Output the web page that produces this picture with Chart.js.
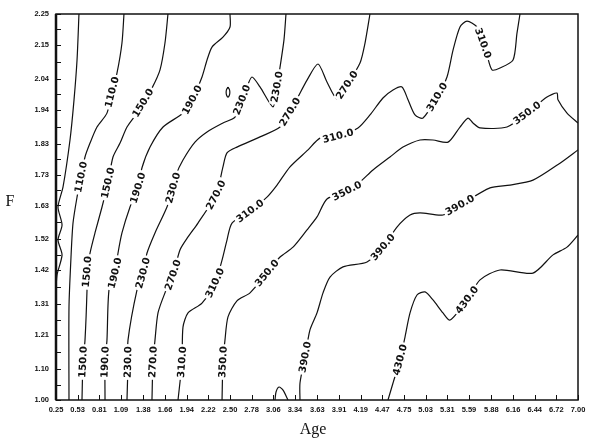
<!DOCTYPE html>
<html>
<head>
<meta charset="utf-8">
<script src="https://cdn.jsdelivr.net/npm/chart.js@4.4.0/dist/chart.umd.min.js"></script>
<style>
  html, body { margin: 0; padding: 0; background: #fff; }
</style>
</head>
<body>
<canvas id="contour" width="600" height="442"></canvas>
<script>
// axis tick labels, as printed
const xTickLabels = ['0.25','0.53','0.81','1.09','1.38','1.66','1.94','2.22','2.50','2.78','3.06','3.34','3.63',
                     '3.91','4.19','4.47','4.75','5.03','5.31','5.59','5.88','6.16','6.44','6.72','7.00'];
const yTickLabels = ['1.00','1.10','1.21','1.31','1.42','1.52','1.63','1.73','1.83','1.94','2.04','2.15','2.25'];

// contour lines, [Age, F]
const c070 = [[0.547,2.250],[0.522,2.101],[0.483,1.972],[0.431,1.842],[0.341,1.690],[0.276,1.625],
              [0.328,1.567],[0.276,1.518],[0.328,1.470],[0.263,1.405],[0.250,1.356]];
const c110 = [[1.129,2.250],[1.103,2.156],[1.039,2.059],[0.974,1.997],[0.909,1.929],[0.780,1.884],
              [0.690,1.832],[0.625,1.787],[0.573,1.722],[0.522,1.657],[0.470,1.573],[0.444,1.463],
              [0.418,1.301],[0.418,1.000]];
const c150 = [[1.698,2.250],[1.659,2.156],[1.595,2.069],[1.491,2.010],[1.375,1.962],[1.297,1.929],
              [1.168,1.884],[1.078,1.832],[0.987,1.787],[0.922,1.703],[0.845,1.625],[0.754,1.541],
              [0.690,1.476],[0.651,1.415],[0.651,1.356],[0.625,1.194],[0.599,1.123],[0.586,1.000]];
const c190 = [[2.500,2.250],[2.500,2.208],[2.409,2.175],[2.267,2.143],[2.203,2.101],[2.138,2.046],
              [2.009,1.972],[1.892,1.929],[1.634,1.884],[1.466,1.819],[1.362,1.752],[1.310,1.687],
              [1.207,1.625],[1.103,1.541],[1.052,1.476],[1.013,1.411],[0.935,1.356],[0.909,1.194],
              [0.884,1.123],[0.884,1.000]];
const c230 = [[3.224,2.250],[3.198,2.166],[3.147,2.078],[3.108,2.014],[3.056,1.949],[2.888,2.014],
              [2.784,2.046],[2.720,2.014],[2.655,1.972],[2.565,1.916],[2.409,1.897],[2.203,1.868],
              [2.047,1.835],[1.892,1.777],[1.802,1.729],[1.763,1.687],[1.685,1.625],[1.530,1.541],
              [1.427,1.476],[1.375,1.411],[1.297,1.356],[1.181,1.194],[1.181,1.123],[1.168,1.000]];
const c230loop = [[2.474,2.013],[2.492,2.006],[2.498,1.997],[2.492,1.987],[2.474,1.981],
                  [2.456,1.987],[2.450,1.997],[2.456,2.006],[2.474,2.013]];
const c270 = [[4.310,2.250],[4.246,2.156],[4.181,2.091],[4.013,2.020],[3.884,1.975],[3.754,2.030],
              [3.638,2.088],[3.496,2.036],[3.379,1.981],[3.276,1.933],[3.147,1.884],[2.888,1.852],
              [2.590,1.819],[2.461,1.800],[2.409,1.755],[2.371,1.712],[2.319,1.664],[2.086,1.573],
              [1.957,1.528],[1.853,1.486],[1.763,1.405],[1.659,1.347],[1.569,1.282],[1.530,1.194],
              [1.504,1.123],[1.491,1.000]];
const c310 = [[6.250,2.250],[6.211,2.188],[6.160,2.101],[5.991,2.075],[5.888,2.069],[5.823,2.117],
              [5.772,2.156],[5.694,2.208],[5.565,2.227],[5.474,2.208],[5.384,2.133],[5.306,2.046],
              [5.177,1.981],[4.996,1.913],[4.892,1.923],[4.802,1.972],[4.724,2.014],[4.608,2.004],
              [4.478,1.978],[4.310,1.923],[4.155,1.881],[3.897,1.855],[3.664,1.848],[3.509,1.810],
              [3.276,1.755],[3.108,1.696],[2.978,1.657],[2.759,1.612],[2.526,1.573],[2.461,1.518],
              [2.397,1.453],[2.306,1.379],[2.138,1.314],[1.957,1.282],[1.892,1.236],[1.879,1.123],
              [1.828,1.000]];
const c350 = [[7.000,1.897],[6.858,1.929],[6.741,1.972],[6.728,1.994],[6.599,1.981],[6.341,1.929],
              [6.082,1.884],[5.733,1.881],[5.642,1.897],[5.578,1.913],[5.474,1.884],[5.319,1.835],
              [5.125,1.842],[4.957,1.842],[4.737,1.819],[4.569,1.787],[4.349,1.745],[4.181,1.706],
              [4.013,1.677],[3.754,1.651],[3.625,1.593],[3.496,1.551],[3.315,1.495],[3.147,1.463],
              [2.978,1.411],[2.759,1.347],[2.590,1.321],[2.474,1.269],[2.435,1.194],[2.409,1.123],
              [2.397,1.000]];
const c390 = [[7.000,1.810],[6.767,1.767],[6.418,1.712],[6.121,1.696],[5.862,1.687],[5.474,1.631],
              [5.254,1.599],[4.957,1.606],[4.828,1.599],[4.659,1.560],[4.478,1.495],[4.272,1.447],
              [3.961,1.431],[3.793,1.398],[3.703,1.347],[3.625,1.282],[3.534,1.227],[3.470,1.139],
              [3.405,1.055],[3.405,1.000]];
const c430 = [[7.000,1.534],[6.858,1.495],[6.677,1.470],[6.418,1.411],[5.991,1.421],[5.733,1.389],
              [5.565,1.324],[5.345,1.259],[5.254,1.282],[5.125,1.324],[5.022,1.350],[4.918,1.340],
              [4.828,1.282],[4.763,1.204],[4.698,1.130],[4.608,1.055],[4.543,1.000]];
const c430bump = [[3.082,1.000],[3.095,1.026],[3.134,1.042],[3.186,1.032],[3.250,1.000]];

// where the level numbers are printed on each line
const label110 = [[0.974,1.997],[0.573,1.722]];
const label150 = [[1.375,1.962],[0.922,1.703],[0.651,1.415],[0.599,1.123]];
const label190 = [[2.009,1.972],[1.310,1.687],[1.013,1.411],[0.884,1.123]];
const label230 = [[3.108,2.014],[2.655,1.972],[1.763,1.687],[1.375,1.411],[1.181,1.123]];
const label270 = [[4.013,2.020],[3.276,1.933],[2.319,1.664],[1.763,1.405],[1.504,1.123]];
const label310 = [[5.772,2.156],[5.177,1.981],[3.897,1.855],[2.759,1.612],[2.306,1.379],[1.879,1.123]];
const label350 = [[6.341,1.929],[4.013,1.677],[2.978,1.411],[2.409,1.123]];
const label390 = [[5.474,1.631],[4.478,1.495],[3.470,1.139]];
const label430 = [[5.565,1.324],[4.698,1.130]];

const lines = [c070, c110, c150, c190, c230, c230loop, c270, c310, c350, c390, c430, c430bump];
const labelled = [
  [1, '110.0', label110], [2, '150.0', label150], [3, '190.0', label190], [4, '230.0', label230],
  [6, '270.0', label270], [7, '310.0', label310], [8, '350.0', label350], [9, '390.0', label390],
  [10, '430.0', label430]
];

const toPts = arr => arr.map(p => ({ x: p[0], y: p[1] }));

const yTickVals = [];
yTickLabels.forEach((l, i) => {
  yTickVals.push(+l);
  if (i < yTickLabels.length - 1) yTickVals.push((+l + +yTickLabels[i + 1]) / 2);
});

const contourLabels = {
  id: 'contourLabels',
  afterDatasetsDraw(chart) {
    const { ctx, scales } = chart;
    ctx.save();
    ctx.font = 'bold 10px "DejaVu Sans"';
    ctx.textAlign = 'center';
    ctx.textBaseline = 'middle';
    labelled.forEach(([di, text, spots]) => {
      const px = lines[di].map(p => [scales.x.getPixelForValue(p[0]), scales.y.getPixelForValue(p[1])]);
      spots.forEach(s => {
        const sx = scales.x.getPixelForValue(s[0]);
        const sy = scales.y.getPixelForValue(s[1]);
        // take the direction of the line around the spot
        let k = 0, best = 1e9;
        px.forEach((p, i) => {
          const d = Math.hypot(p[0] - sx, p[1] - sy);
          if (d < best) { best = d; k = i; }
        });
        const a = px[Math.max(0, k - 1)], b = px[Math.min(px.length - 1, k + 1)];
        let ang = Math.atan2(b[1] - a[1], b[0] - a[0]);
        if (ang > Math.PI / 2 - 0.1) ang -= Math.PI;
        if (ang < -Math.PI / 2 - 0.1) ang += Math.PI;
        const w = ctx.measureText(text).width;
        ctx.save();
        ctx.translate(sx, sy);
        ctx.rotate(ang);
        ctx.fillStyle = '#fff';
        ctx.fillRect(-w / 2 - 2, -5, w + 4, 10);
        ctx.fillStyle = '#111';
        ctx.fillText(text, 0, 0.5);
        ctx.restore();
      });
    });
    ctx.restore();
  }
};

const frameAndTicks = {
  id: 'frameAndTicks',
  afterDraw(chart) {
    const { ctx, chartArea: a, scales } = chart;
    ctx.save();
    ctx.strokeStyle = '#111';
    ctx.lineWidth = 1;
    scales.x.ticks.forEach(t => {
      const x = Math.round(scales.x.getPixelForValue(t.value)) + 0.5;
      ctx.beginPath(); ctx.moveTo(x, a.bottom); ctx.lineTo(x, a.bottom - 5); ctx.stroke();
    });
    scales.y.ticks.forEach(t => {
      const y = Math.round(scales.y.getPixelForValue(t.value)) + 0.5;
      ctx.beginPath(); ctx.moveTo(a.left, y); ctx.lineTo(a.left + 5, y); ctx.stroke();
    });
    ctx.lineWidth = 1.5;
    ctx.strokeRect(a.left, a.top, a.right - a.left, a.bottom - a.top);
    ctx.lineWidth = 2.5;
    ctx.beginPath(); ctx.moveTo(a.left, a.top); ctx.lineTo(a.left, a.bottom); ctx.stroke();

    ctx.fillStyle = '#111';
    ctx.font = '16px "Liberation Serif"';
    ctx.textAlign = 'center';
    ctx.textBaseline = 'middle';
    ctx.fillText('Age', (a.left + a.right) / 2 - 4, a.bottom + 30);
    ctx.fillText('F', a.left - 46, (a.top + a.bottom) / 2 - 5);
    ctx.restore();
  }
};

new Chart(document.getElementById('contour'), {
  type: 'scatter',
  data: {
    datasets: lines.map(l => ({
      data: toPts(l),
      showLine: true,
      borderColor: '#111',
      borderWidth: 1.2,
      pointRadius: 0,
      tension: 0.25
    }))
  },
  options: {
    responsive: false,
    animation: false,
    layout: { padding: { top: 14, right: 22, left: 0, bottom: 0 } },
    plugins: { legend: { display: false }, tooltip: { enabled: false } },
    scales: {
      x: {
        type: 'linear',
        min: 0.25,
        max: 7.0,
        afterBuildTicks: axis => { axis.ticks = xTickLabels.map(v => ({ value: +v })); },
        afterFit: scale => { scale.height = 42; },
        grid: { display: false, drawTicks: false },
        border: { display: false },
        ticks: {
          autoSkip: false, maxRotation: 0, minRotation: 0, padding: 5,
          color: '#111', font: { family: 'Liberation Sans', size: 7.5, weight: 'bold' },
          callback: (v, i) => xTickLabels[i]
        }
      },
      y: {
        type: 'linear',
        min: 1.0,
        max: 2.25,
        afterBuildTicks: axis => { axis.ticks = yTickVals.map(v => ({ value: v })); },
        afterFit: scale => { scale.width = 56; },
        grid: { display: false, drawTicks: false },
        border: { display: false },
        ticks: {
          autoSkip: false, padding: 7,
          color: '#111', font: { family: 'Liberation Sans', size: 7.5, weight: 'bold' },
          callback: (v, i) => (i % 2 === 0 ? yTickLabels[i / 2] : '')
        }
      }
    }
  },
  plugins: [contourLabels, frameAndTicks]
});
</script>
</body>
</html>
